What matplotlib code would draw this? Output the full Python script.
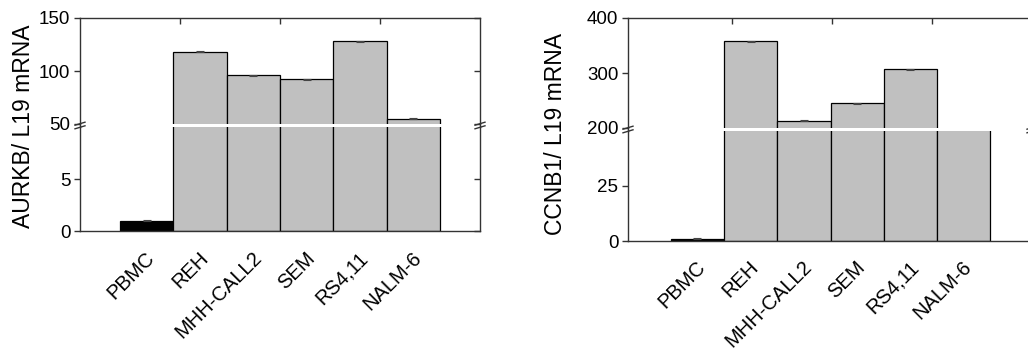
import matplotlib
matplotlib.use("Agg")
import matplotlib.pyplot as plt
import matplotlib.transforms as mtransforms
from matplotlib.lines import Line2D
import numpy as np

plt.rcParams['font.family'] = ['Liberation Sans', 'DejaVu Sans']

cells = ['PBMC', 'REH', 'MHH-CALL2', 'SEM', 'RS4,11', 'NALM-6']
aurkb = [1.0, 118, 96, 92, 128, 55]
aurkb_err = [0.05, 0.4, 0.4, 0.4, 0.4, 0.4]
ccnb1 = [1.0, 358, 213, 245, 307, 190]
ccnb1_err = [0.2, 0.8, 0.8, 0.8, 0.8, 0.8]
bar_colors = ['black', '#c0c0c0', '#c0c0c0', '#c0c0c0', '#c0c0c0', '#c0c0c0']

W, H = 1028, 355
fig = plt.figure(figsize=(W / 100, H / 100), dpi=100)


def px_axes(x0, x1, ytop, ybot):
    return fig.add_axes([x0 / W, 1 - ybot / H, (x1 - x0) / W, (ybot - ytop) / H])


SPC = '#333333'


def style(ax, upper, right_ticks):
    for s in ax.spines.values():
        s.set_color(SPC)
        s.set_linewidth(1.0)
    if upper:
        ax.spines['bottom'].set_visible(False)
    else:
        ax.spines['top'].set_visible(False)
    ax.tick_params(axis='y', which='major', left=True, right=False, direction='out',
                   length=4, width=1, color=SPC, labelsize=13.5, pad=3)
    ax.tick_params(axis='x', which='major', bottom=False, top=False, labelbottom=False)
    ax.tick_params(axis='x', which='minor', direction='in', length=4, width=1, color=SPC,
                   top=upper, bottom=not upper)
    if right_ticks:
        sec = ax.secondary_yaxis('right')
        sec.set_yticks(ax.get_yticks())
        sec.tick_params(direction='in', length=4, width=1, color=SPC, labelright=False)
        sec.spines['right'].set_visible(False)


def draw_panel(x0, x1, ytop, ybreak_hi, ybreak_lo, ybot, vals, errs, upper_lim, lower_lim,
               upper_ticks, lower_ticks, xlim, xminor, ylabel, ylabel_y, ylabel_x, lab_dx, lab_dy,
               right_ticks):
    axu = px_axes(x0, x1, ytop, ybreak_hi)
    axl = px_axes(x0, x1, ybreak_lo, ybot)
    pos = np.arange(len(cells))
    centers = pos + 0.5
    for ax in (axu, axl):
        ax.bar(pos, vals, width=1.0, align='edge', color=bar_colors, edgecolor='black',
               linewidth=0.9, zorder=2)
        ax.errorbar(centers, vals, yerr=errs, fmt='none', ecolor='#444444', elinewidth=0.8,
                    capsize=3, capthick=0.8, zorder=3)
        ax.set_xlim(*xlim)
        ax.set_xticks(centers)
        ax.set_xticks(xminor, minor=True)
    axu.set_ylim(*upper_lim)
    axl.set_ylim(*lower_lim)
    axu.set_yticks(upper_ticks)
    axl.set_yticks(lower_ticks)
    style(axu, True, right_ticks)
    style(axl, False, right_ticks)
    trans = mtransforms.blended_transform_factory(axl.transData, axl.transAxes)
    trans = mtransforms.offset_copy(trans, fig=fig, x=lab_dx, y=lab_dy, units='dots')
    for c, lab in zip(centers, cells):
        axl.text(c, 0, lab, transform=trans, rotation=45, ha='right', va='center',
                 rotation_mode='anchor', fontsize=14.5)
    fig.text(ylabel_x / W, 1 - ylabel_y / H, ylabel, rotation=90, ha='center', va='center',
             fontsize=16.5)
    ymid = (ybreak_hi + ybreak_lo) / 2
    for xs in (x0, x1):
        for dy in (-1.8, 1.8):
            yc = ymid + dy
            fig.add_artist(Line2D([(xs - 5) / W, (xs + 5) / W],
                                  [1 - (yc + 1.5) / H, 1 - (yc - 1.5) / H],
                                  transform=fig.transFigure, color=SPC, lw=1.0))
        fig.add_artist(Line2D([xs / W, xs / W], [1 - ybreak_lo / H, 1 - ybreak_hi / H],
                              transform=fig.transFigure, color=SPC, lw=1.0))


draw_panel(80, 480, 18, 124, 127, 231, aurkb, aurkb_err, (50, 150), (0, 10),
           [50, 100, 150], [0, 5], (-0.75, 6.75), [1.125, 3.0, 4.875],
           'AURKB/ L19 mRNA', 126, 24, 5, -24, True)
draw_panel(628, 1032, 18, 128, 131, 241, ccnb1, ccnb1_err, (200, 400), (0, 50),
           [200, 300, 400], [0, 25], (-0.8, 6.78), [1.15, 3.03, 4.9],
           'CCNB1/ L19 mRNA', 134, 556, 5, -23, False)

fig.savefig('out.png', dpi=100)
